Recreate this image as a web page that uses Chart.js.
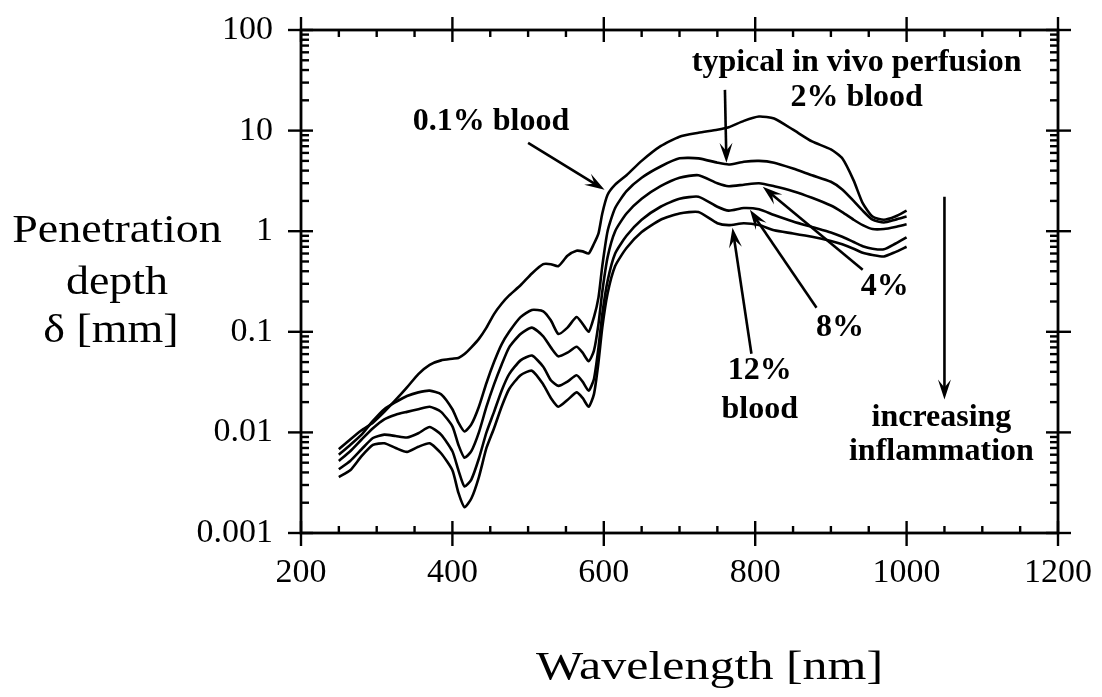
<!DOCTYPE html>
<html lang="en">
<head>
<meta charset="UTF-8" />
<title>Penetration depth vs wavelength</title>
<style>
  body { margin: 0; background: #fff; }
  #wrap { width: 1102px; height: 697px; }
</style>
</head>
<body>
<div id="wrap"><canvas id="depthChart" width="1102" height="697"></canvas></div>
<script src="https://cdn.jsdelivr.net/npm/chart.js"></script>
<script>
// Wavelength grid (nm) shared by all five curves
const wavelengths = [250, 265, 280, 295, 310, 325, 340, 355, 370, 385, 400, 408, 416, 425, 435, 445, 455, 465, 475, 490,
  505, 520, 530, 540, 552, 564, 572, 580, 587, 593, 598, 605, 615, 630, 650, 675, 700, 725, 750, 765,
  785, 805, 825, 850, 875, 900, 915, 930, 942, 955, 970, 985, 1000];

// Penetration depth (mm), one array per blood fraction
const blood01 = [0.0068, 0.0085, 0.0105, 0.0125, 0.016, 0.021, 0.028, 0.038, 0.047, 0.052, 0.054, 0.055, 0.06, 0.07, 0.085, 0.11, 0.15, 0.19, 0.23, 0.29,
  0.38, 0.47, 0.47, 0.45, 0.57, 0.64, 0.63, 0.6, 0.75, 0.95, 1.5, 2.3, 2.9, 3.6, 5.0, 7.0, 8.7, 9.5, 10.2, 10.8,
  12.5, 13.8, 13.2, 10.2, 7.8, 6.5, 5.3, 3.2, 1.9, 1.4, 1.3, 1.4, 1.6];
const blood2 = [0.006, 0.0075, 0.0095, 0.013, 0.017, 0.02, 0.023, 0.025, 0.026, 0.024, 0.017, 0.0125, 0.0102, 0.012, 0.018, 0.031, 0.05, 0.075, 0.1, 0.14,
  0.165, 0.16, 0.13, 0.095, 0.11, 0.14, 0.12, 0.1, 0.14, 0.22, 0.45, 1.0, 1.7, 2.5, 3.4, 4.4, 5.3, 5.3, 4.8, 4.6,
  4.9, 5.0, 4.8, 4.2, 3.6, 3.1, 2.6, 2.0, 1.6, 1.3, 1.22, 1.3, 1.4];
const blood4 = [0.0052, 0.0065, 0.0085, 0.011, 0.0135, 0.015, 0.016, 0.017, 0.018, 0.016, 0.0115, 0.0075, 0.0056, 0.0065, 0.01, 0.018, 0.03, 0.047, 0.07, 0.095,
  0.11, 0.09, 0.07, 0.057, 0.062, 0.071, 0.062, 0.051, 0.065, 0.12, 0.25, 0.55, 1.0, 1.5, 2.1, 2.8, 3.4, 3.6, 3.0, 2.8,
  2.9, 3.0, 2.8, 2.5, 2.15, 1.8, 1.55, 1.3, 1.15, 1.05, 1.05, 1.1, 1.17];
const blood8 = [0.0043, 0.0052, 0.0068, 0.0088, 0.0095, 0.0092, 0.0089, 0.0098, 0.0113, 0.0095, 0.0065, 0.0042, 0.0029, 0.0034, 0.0055, 0.01, 0.016, 0.026, 0.038, 0.052,
  0.058, 0.045, 0.033, 0.029, 0.032, 0.037, 0.032, 0.026, 0.034, 0.07, 0.15, 0.32, 0.6, 0.9, 1.3, 1.75, 2.1, 2.2, 1.75, 1.6,
  1.7, 1.65, 1.45, 1.25, 1.1, 0.97, 0.88, 0.78, 0.71, 0.67, 0.66, 0.75, 0.87];
const blood12 = [0.0036, 0.0042, 0.0058, 0.0075, 0.0078, 0.007, 0.0064, 0.0072, 0.0078, 0.0062, 0.0042, 0.0025, 0.0018, 0.0022, 0.0036, 0.007, 0.011, 0.018, 0.027, 0.037,
  0.041, 0.03, 0.022, 0.018, 0.021, 0.025, 0.022, 0.018, 0.024, 0.05, 0.11, 0.24, 0.45, 0.68, 0.98, 1.3, 1.5, 1.55, 1.2, 1.15,
  1.2, 1.15, 1.02, 0.95, 0.88, 0.8, 0.74, 0.67, 0.61, 0.58, 0.56, 0.62, 0.7];

const seriesLabels = ['0.1% blood', '2% blood', '4% blood', '8% blood', '12% blood'];
const seriesValues = [blood01, blood2, blood4, blood8, blood12];

// Axes
const xTickValues = [200, 400, 600, 800, 1000, 1200];
const xTickLabels = ['200', '400', '600', '800', '1000', '1200'];
const xMinorStep = 50;
const yTickValues = [0.001, 0.01, 0.1, 1, 10, 100];
const yTickLabels = ['0.001', '0.01', '0.1', '1', '10', '100'];

// Annotations, placed in data units (nm, mm)
const notes = [
  { lines: ['0.1% blood'], at: [451, 12.2] },
  { lines: ['typical in vivo perfusion', '2% blood'], at: [934, 47], gap: 35 },
  { lines: ['4%'], at: [971, 0.28] },
  { lines: ['8%'], at: [912, 0.11] },
  { lines: ['12%', 'blood'], at: [806, 0.041], gap: 39 },
  { lines: ['increasing', 'inflammation'], at: [1046, 0.014], gap: 34 }
];
const arrows = [
  { from: [500, 7.55], to: [601, 2.58] },
  { from: [760, 25.4], to: [762, 4.78] },
  { from: [942, 0.414], to: [810, 2.76] },
  { from: [881, 0.173], to: [793, 1.63] },
  { from: [795, 0.0606], to: [770, 1.08] },
  { from: [1050, 2.2], to: [1050, 0.0212] }
];

const serif = '"Liberation Serif", "Times New Roman", serif';

function drawStretched(ctx, str, cx, cy, sx) {
  ctx.save();
  ctx.translate(cx, cy);
  ctx.scale(sx, 1);
  ctx.fillText(str, 0, 0);
  ctx.restore();
}

function drawArrow(ctx, x1, y1, x2, y2) {
  const ang = Math.atan2(y2 - y1, x2 - x1);
  const len = 20, half = 6.5;
  ctx.beginPath();
  ctx.moveTo(x1, y1);
  ctx.lineTo(x2 - Math.cos(ang) * 8, y2 - Math.sin(ang) * 8);
  ctx.stroke();
  ctx.beginPath();
  ctx.moveTo(x2, y2);
  ctx.lineTo(x2 - len * Math.cos(ang) + half * Math.sin(ang), y2 - len * Math.sin(ang) - half * Math.cos(ang));
  ctx.lineTo(x2 - 12 * Math.cos(ang), y2 - 12 * Math.sin(ang));
  ctx.lineTo(x2 - len * Math.cos(ang) - half * Math.sin(ang), y2 - len * Math.sin(ang) + half * Math.cos(ang));
  ctx.closePath();
  ctx.fill();
}

const framePlugin = {
  id: 'frameAndNotes',
  afterDatasetsDraw(chart) {
    const { ctx, chartArea: a, scales: { x, y } } = chart;
    ctx.save();
    ctx.strokeStyle = '#000';
    ctx.fillStyle = '#000';
    ctx.lineCap = 'butt';

    // box
    ctx.lineWidth = 2.8;
    ctx.strokeRect(a.left, a.top, a.right - a.left, a.bottom - a.top);

    const seg = (x1, y1, x2, y2) => { ctx.beginPath(); ctx.moveTo(x1, y1); ctx.lineTo(x2, y2); ctx.stroke(); };

    // x ticks, bottom and top
    ctx.lineWidth = 2.4;
    for (let v = x.min; v <= x.max; v += xMinorStep) {
      const px = x.getPixelForValue(v);
      const major = xTickValues.includes(v);
      const inn = major ? 12 : 7, out = major ? 13 : 0;
      seg(px, a.bottom + out, px, a.bottom - inn);
      seg(px, a.top - out, px, a.top + inn);
    }
    // y ticks, left and right (log minors 2..9)
    yTickValues.forEach(d => {
      const py = y.getPixelForValue(d);
      seg(a.left - 13, py, a.left + 12, py);
      seg(a.right + 13, py, a.right - 12, py);
      if (d >= 100) return;
      for (let m = 2; m <= 9; m++) {
        const pm = y.getPixelForValue(d * m);
        seg(a.left, pm, a.left + 8, pm);
        seg(a.right, pm, a.right - 8, pm);
      }
    });

    // arrows
    ctx.lineWidth = 2.6;
    arrows.forEach(ar => {
      drawArrow(ctx, x.getPixelForValue(ar.from[0]), y.getPixelForValue(ar.from[1]),
        x.getPixelForValue(ar.to[0]), y.getPixelForValue(ar.to[1]));
    });

    // notes
    ctx.font = 'bold 32px ' + serif;
    ctx.textAlign = 'center';
    ctx.textBaseline = 'middle';
    notes.forEach(n => {
      const cx = x.getPixelForValue(n.at[0]);
      const cy = y.getPixelForValue(n.at[1]);
      n.lines.forEach((t, i) => ctx.fillText(t, cx, cy + i * (n.gap || 0)));
    });

    // axis titles
    ctx.font = '40px ' + serif;
    drawStretched(ctx, 'Penetration', a.left - 184, y.getPixelForValue(1), 1.15);
    drawStretched(ctx, 'depth', a.left - 184, y.getPixelForValue(1) + 52, 1.15);
    drawStretched(ctx, 'δ [mm]', a.left - 190, y.getPixelForValue(0.1), 1.15);
    drawStretched(ctx, 'Wavelength [nm]', (a.left + a.right) / 2 + 30, a.bottom + 135, 1.25);
    ctx.restore();
  }
};

new Chart(document.getElementById('depthChart'), {
  type: 'line',
  data: {
    labels: wavelengths,
    datasets: seriesValues.map((vals, i) => ({
      label: seriesLabels[i],
      data: vals.map((v, j) => ({ x: wavelengths[j], y: v })),
      borderColor: '#000',
      borderWidth: 2.6,
      pointRadius: 0,
      tension: 0.2,
      fill: false
    }))
  },
  options: {
    responsive: false,
    animation: false,
    layout: { padding: { top: 30, right: 44, left: 0, bottom: 0 } },
    plugins: { legend: { display: false }, tooltip: { enabled: false } },
    scales: {
      x: {
        type: 'linear',
        min: 200,
        max: 1200,
        afterBuildTicks: s => { s.ticks = xTickValues.map(v => ({ value: v })); },
        afterFit: s => { s.height = 164; s.paddingLeft = 0; s.paddingRight = 0; },
        grid: { display: false },
        border: { display: false },
        ticks: {
          color: '#000', padding: 12, maxRotation: 0, autoSkip: false, font: { family: serif, size: 34 },
          callback: v => xTickLabels[xTickValues.indexOf(v)]
        }
      },
      y: {
        type: 'logarithmic',
        min: 0.001,
        max: 100,
        afterBuildTicks: s => { s.ticks = yTickValues.map(v => ({ value: v })); },
        afterFit: s => { s.width = 301; s.paddingTop = 0; s.paddingBottom = 0; },
        grid: { display: false },
        border: { display: false },
        ticks: {
          color: '#000', padding: 20, autoSkip: false, font: { family: serif, size: 34 },
          callback: v => yTickLabels[yTickValues.indexOf(v)]
        }
      }
    }
  },
  plugins: [framePlugin]
});
</script>
</body>
</html>
